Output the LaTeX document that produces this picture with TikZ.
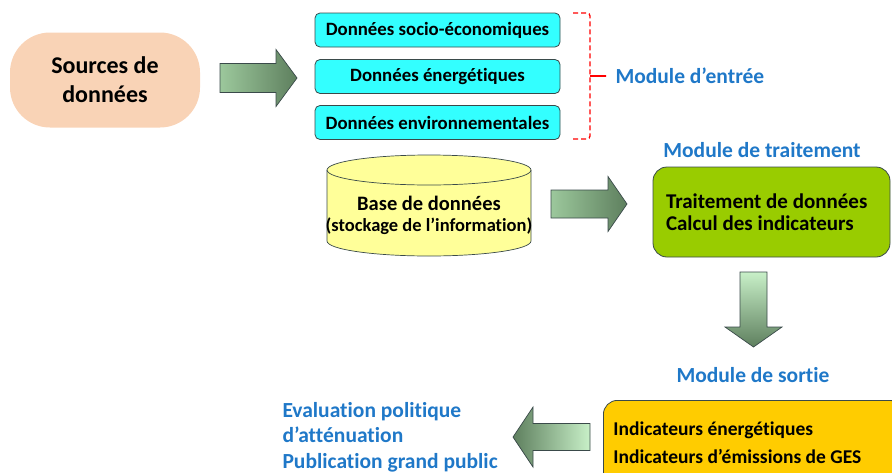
\documentclass[tikz,border=0pt]{standalone}
\usepackage{fontspec}
\setmainfont{Carlito}[Ligatures=NoCommon]
\usepackage{xcolor}
\usepackage{tikz}
\usetikzlibrary{arrows.meta,positioning,shapes.geometric}
\definecolor{sourcePeach}{HTML}{F9D3B6}
\definecolor{inputCyan}{HTML}{33FFFF}
\definecolor{baseYellow}{HTML}{FFFF99}
\definecolor{processGreen}{HTML}{99CC00}
\definecolor{outputAmber}{HTML}{FFCC00}
\definecolor{moduleBlue}{HTML}{1F78C8}
\definecolor{borderInk}{HTML}{3A4A4A}
\definecolor{arrowDark}{HTML}{5E7F5E}
\definecolor{arrowMid}{HTML}{9CC89C}
\definecolor{arrowLight}{HTML}{C8F0C8}
\tikzset{
  source/.style={
    rectangle,
    rounded corners=40pt,
    fill=sourcePeach,
    minimum width=190pt,
    minimum height=95pt,
    align=center,
    font=\fontsize{24}{29}\selectfont\bfseries
  },
  inputbox/.style={
    rectangle,
    rounded corners=5pt,
    draw=borderInk,
    fill=inputCyan,
    line width=0.8pt,
    minimum width=245pt,
    minimum height=34pt,
    font=\fontsize{18.8}{22}\selectfont\bfseries
  },
  database/.style={
    draw=borderInk,
    fill=baseYellow,
    line width=0.7pt
  },
  resultbox/.style={
    rectangle,
    rounded corners=14pt,
    draw=borderInk,
    line width=0.8pt,
    align=left,
    execute at begin node={\spaceskip=0pt\xspaceskip=0pt}
  },
  modulelabel/.style={
    text=moduleBlue,
    font=\fontsize{21.5}{25}\selectfont\bfseries
  },
  bigarrow/.style={
    draw=borderInk,
    line width=0.7pt,
    line join=miter
  },
  bracket/.style={
    red,
    dash pattern=on 5pt off 3pt,
    line width=1.3pt,
    rounded corners=3pt
  }
}
\begin{document}
\begin{tikzpicture}[x=1pt,y=-1pt]
  \clip (0,0) rectangle (892,472);
  % input side
  \node[source] (src) at (105,80) {Sources de\\données};
  \node[inputbox] (socio) at (437.5,30) {Données socio-économiques};
  \node[inputbox] (energie) at (437.5,76.5) {Données énergétiques};
  \node[inputbox] (environ) at (437.5,122.5) {Données environnementales};
  \draw[bigarrow,left color=arrowMid,middle color=arrowLight,right color=arrowDark]
    (220,63.5) -- (276,63.5) -- (276,49.5) -- (297,78) -- (276,106.5) -- (276,92.5) -- (220,92.5) -- cycle;
  \draw[bracket] (573,13) -- (590,13) -- (590,139) -- (573,139);
  \draw[bracket,dash pattern=on 4pt off 0pt] (590,76) -- (606,76);
  \node[modulelabel,anchor=west] (entree) at (612,76) {Module d’entrée};
  % processing
  \draw[database] (327,170) -- (327,241) arc[start angle=180,end angle=0,x radius=102,y radius=15]
    -- (531,170) arc[start angle=0,end angle=-180,x radius=102,y radius=15] -- cycle;
  \draw[database,fill=none] (327,170) arc[start angle=180,end angle=0,x radius=102,y radius=15];
  \node[font=\fontsize{20.5}{24}\selectfont\bfseries] (basetitle) at (429,203) {Base de données};
  \node[font=\fontsize{18.5}{22}\selectfont\bfseries] (basenote) at (429,226) {(stockage de l’information)};
  \draw[bigarrow,left color=arrowMid,middle color=arrowLight,right color=arrowDark]
    (551,190) -- (608,190) -- (608,176.5) -- (627,204) -- (608,231.5) -- (608,218) -- (551,218) -- cycle;
  \node[modulelabel] (traitement) at (762,150) {Module de traitement};
  \node[resultbox,fill=processGreen,minimum width=237pt,minimum height=90pt,text width=211pt,inner xsep=13pt,
    font=\fontsize{21}{22}\selectfont\bfseries] (process) at (771.5,212) {Traitement de données\\Calcul des indicateurs};
  \draw[bigarrow,top color=arrowLight,bottom color=arrowDark]
    (740,272) -- (767,272) -- (767,327) -- (782,327) -- (753.5,347) -- (725,327) -- (740,327) -- cycle;
  % output
  \node[modulelabel] (sortie) at (753,375) {Module de sortie};
  \node[resultbox,fill=outputAmber,anchor=north west,minimum width=300pt,minimum height=85pt,text width=280pt,inner xsep=10pt,
    font=\fontsize{19.5}{28}\selectfont\bfseries] (output) at (603,400) {Indicateurs énergétiques\\Indicateurs d’émissions de GES};
  \draw[bigarrow,left color=arrowDark,right color=arrowLight]
    (590,423.5) -- (533,423.5) -- (533,407) -- (513,437) -- (533,467) -- (533,450.5) -- (590,450.5) -- cycle;
  \node[modulelabel,anchor=west,align=left,font=\fontsize{21.5}{25.5}\selectfont\bfseries,
    execute at begin node={\spaceskip=0pt\xspaceskip=0pt}] (usage) at (279,437)
    {Evaluation politique\\d’atténuation\\Publication grand public};
\end{tikzpicture}
\end{document}
